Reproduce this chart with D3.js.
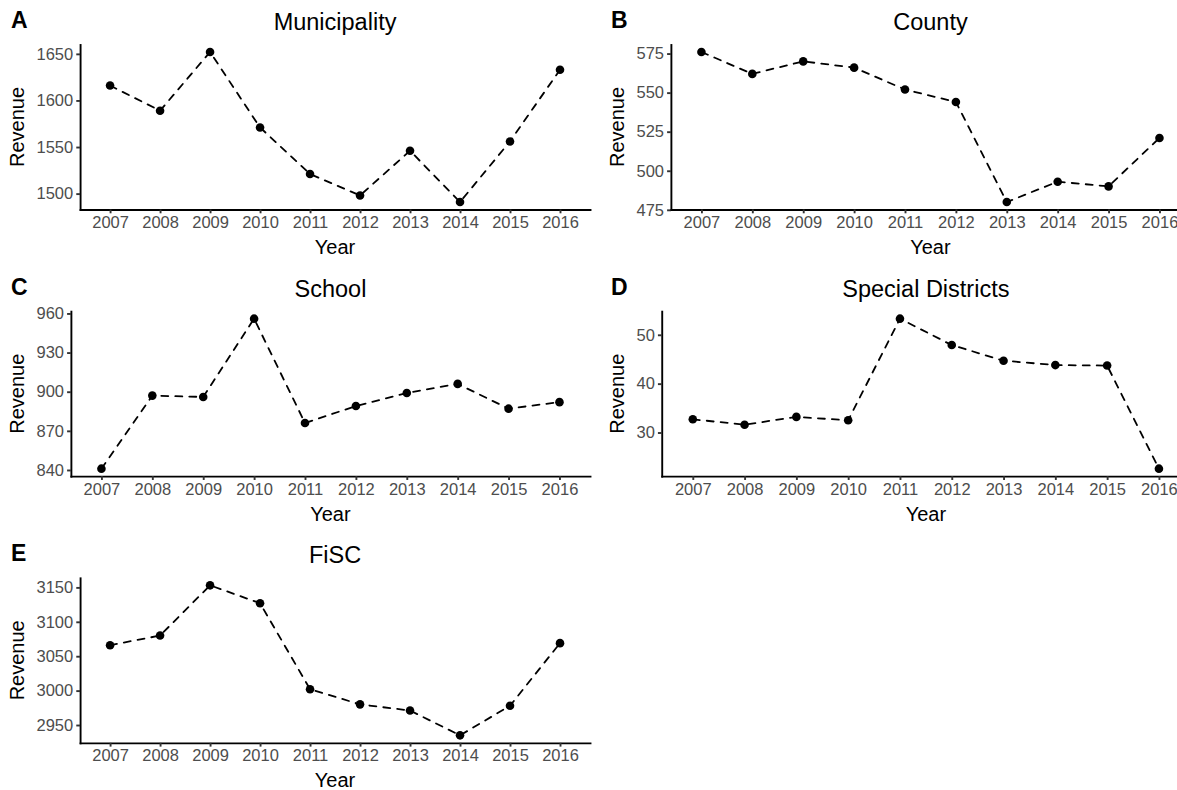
<!DOCTYPE html>
<html>
<head>
<meta charset="utf-8">
<script src="https://cdn.jsdelivr.net/npm/d3@7"></script>
<style>
  html, body { margin: 0; padding: 0; background: #ffffff; }
  svg { display: block; }
  text { font-family: "Liberation Sans", Arial, Helvetica, sans-serif; }
</style>
</head>
<body>
<svg id="chart" width="1177" height="790"></svg>
<script>
// Years shown on every x axis
const years = ["2007", "2008", "2009", "2010", "2011", "2012", "2013", "2014", "2015", "2016"];

// Revenue series by government type
const municipality = [1616, 1589, 1652, 1571, 1521, 1498, 1546, 1491, 1556, 1633];
const county = [576, 562, 570, 566, 552, 544, 480, 493, 490, 521];
const school = [841, 897, 896, 956, 876, 889, 899, 906, 887, 892];
const specialDistricts = [32.7, 31.6, 33.2, 32.5, 53.3, 47.9, 44.7, 43.8, 43.7, 22.6];
const fisc = [3066, 3080, 3153, 3127, 3002, 2980, 2971, 2935, 2978, 3069];

// Y tick labels for each panel
const municipalityTicks = [1500, 1550, 1600, 1650];
const countyTicks = [475, 500, 525, 550, 575];
const schoolTicks = [840, 870, 900, 930, 960];
const specialTicks = [30, 40, 50];
const fiscTicks = [2950, 3000, 3050, 3100, 3150];

// Panel letters and titles
const letters = ["A", "B", "C", "D", "E"];
const titles = ["Municipality", "County", "School", "Special Districts", "FiSC"];

const panels = [
  { letter: letters[0], title: titles[0], values: municipality, ticks: municipalityTicks, col: 0, row: 0 },
  { letter: letters[1], title: titles[1], values: county, ticks: countyTicks, col: 1, row: 0 },
  { letter: letters[2], title: titles[2], values: school, ticks: schoolTicks, col: 0, row: 1 },
  { letter: letters[3], title: titles[3], values: specialDistricts, ticks: specialTicks, col: 1, row: 1 },
  { letter: letters[4], title: titles[4], values: fisc, ticks: fiscTicks, col: 0, row: 2 }
];

const svg = d3.select("#chart");
svg.append("rect").attr("width", 1177).attr("height", 790).attr("fill", "#ffffff");

const cellW = 600, cellH = 800 / 3;
const tickFont = 16.5, axisTitleFont = 20, titleFont = 23.5, letterFont = 23;
const tickLen = 3.8, tickPad = 3.06;
const axisWidth = 1.9;

function measure(str, size) {
  const t = svg.append("text").attr("font-size", size).text(str);
  const w = t.node().getComputedTextLength();
  t.remove();
  return w;
}

panels.forEach(p => {
  const cx = p.col * cellW, cy = p.row * cellH;
  const top = cy + 44.5, bottom = cy + 209.5, right = cx + 590;
  const labelW = d3.max(p.ticks, t => measure(String(t), tickFont));
  const left = cx + 36.5 + labelW + tickLen + tickPad;

  const x = d3.scalePoint().domain(years).range([left, right]).padding(0.6);
  const [lo, hi] = d3.extent(p.values);
  const pad = (hi - lo) * 0.05;
  const y = d3.scaleLinear().domain([lo - pad, hi + pad]).range([bottom, top]);

  const g = svg.append("g");

  // y axis
  const ya = g.append("g")
    .attr("transform", `translate(${left},0)`)
    .call(d3.axisLeft(y).tickValues(p.ticks).tickFormat(d3.format("d"))
      .tickSize(tickLen).tickSizeOuter(0).tickPadding(tickPad));
  // x axis
  const xa = g.append("g")
    .attr("transform", `translate(0,${bottom})`)
    .call(d3.axisBottom(x).tickSize(tickLen).tickSizeOuter(0).tickPadding(tickPad));

  [ya, xa].forEach(a => {
    a.select(".domain").attr("stroke", "#000").attr("stroke-width", axisWidth).attr("stroke-linecap", "square");
    a.selectAll(".tick line").attr("stroke", "#333333").attr("stroke-width", axisWidth);
    a.selectAll(".tick text").attr("fill", "#4D4D4D").attr("font-size", tickFont)
      .attr("font-family", "'Liberation Sans', Arial, Helvetica, sans-serif");
  });

  // dashed series line
  const line = d3.line().x((d, i) => x(years[i])).y(d => y(d));
  g.append("path")
    .datum(p.values)
    .attr("d", line)
    .attr("fill", "none")
    .attr("stroke", "#000")
    .attr("stroke-width", 1.8)
    .attr("stroke-dasharray", "7,7")
    .attr("stroke-linecap", "round");

  // points
  g.selectAll("circle")
    .data(p.values)
    .join("circle")
    .attr("cx", (d, i) => x(years[i]))
    .attr("cy", d => y(d))
    .attr("r", 4.3)
    .attr("fill", "#000");

  // titles
  g.append("text")
    .attr("x", (left + right) / 2).attr("y", cy + 30)
    .attr("text-anchor", "middle").attr("font-size", titleFont).attr("fill", "#000")
    .text(p.title);

  g.append("text")
    .attr("x", (left + right) / 2).attr("y", bottom + 44.5)
    .attr("text-anchor", "middle").attr("font-size", axisTitleFont).attr("fill", "#000")
    .text("Year");

  g.append("text")
    .attr("transform", `translate(${cx + 24},${(top + bottom) / 2}) rotate(-90)`)
    .attr("text-anchor", "middle").attr("font-size", axisTitleFont).attr("fill", "#000")
    .text("Revenue");

  g.append("text")
    .attr("x", cx + 11).attr("y", cy + 28)
    .attr("font-size", letterFont).attr("font-weight", "bold").attr("fill", "#000")
    .text(p.letter);
});
</script>
</body>
</html>
